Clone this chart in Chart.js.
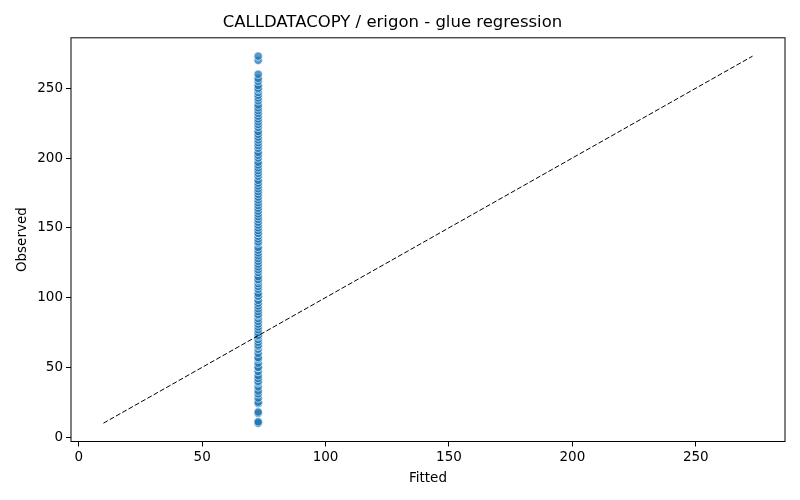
<!DOCTYPE html>
<html>
<head>
<meta charset="utf-8">
<script src="https://cdn.jsdelivr.net/npm/chart.js@4"></script>
<style>
  html, body { margin: 0; padding: 0; background: #fff; }
  #wrap { width: 800px; height: 500px; }
</style>
</head>
<body>
<div id="wrap"><canvas id="glue"></canvas></div>
<script>
// every point sits on the same fitted value
const fitted = 72.7;
const observed = [
    10, 10, 11, 17, 18, 24, 25, 28, 31, 33, 36, 39, 40, 42, 44, 47, 50, 50,
    53, 56, 57, 60, 63, 65, 66, 68, 70, 72, 73, 75, 77, 79, 81, 83, 85, 87,
    88, 90, 92, 94, 96, 98, 101, 101, 103, 106, 108, 110, 112, 113, 115, 118,
    120, 122, 124, 126, 128, 130, 132, 134, 136, 139, 140, 142, 144, 146, 146,
    148, 150, 152, 154, 156, 158, 160, 162, 164, 166, 168, 170, 172, 174, 176,
    178, 180, 182, 184, 187, 189, 191, 193, 195, 197, 200, 202, 204, 207, 209,
    211, 213, 215, 217, 219, 222, 224, 226, 228, 230, 232, 234, 236, 238, 241,
    243, 245, 247, 249, 250, 252, 255, 257, 260, 270, 273,
];
// y = x reference line ends
const diagonal = [10, 273];
const tickValues = [0, 50, 100, 150, 200, 250];
const axisMin = -3.15;
const axisMax = 286.15;

const font = "'DejaVu Sans', sans-serif";

// matplotlib-like box around the plot area
const frame = {
    id: "frame",
    afterDraw(chart) {
        const { ctx, chartArea: a } = chart;
        ctx.save();
        ctx.strokeStyle = "#000";
        ctx.lineWidth = 1;
        ctx.strokeRect(a.left, a.top, a.right - a.left, a.bottom - a.top);
        ctx.restore();
    },
};

const axis = (title, fit, titlePad) => ({
    type: "linear",
    min: axisMin,
    max: axisMax,
    afterBuildTicks: (scale) => {
        scale.ticks = tickValues.map((v) => ({ value: v }));
    },
    afterFit: fit,
    border: { display: false },
    grid: {
        drawOnChartArea: false,
        drawTicks: true,
        tickLength: 5,
        color: "#000",
    },
    ticks: {
        color: "#000",
        font: { family: font, size: 13.5 },
        padding: 3,
    },
    title: {
        display: true,
        text: title,
        color: "#000",
        font: { family: font, size: 13.5 },
        padding: titlePad,
    },
});

new Chart(document.getElementById("glue"), {
    type: "scatter",
    data: {
        datasets: [
            {
                type: "line",
                data: diagonal.map((v) => ({ x: v, y: v })),
                borderColor: "#000",
                borderWidth: 1,
                borderDash: [5, 2.2],
                pointRadius: 0,
                fill: false,
            },
            {
                data: observed.map((v) => ({ x: fitted, y: v })),
                backgroundColor: "rgba(31, 119, 180, 0.75)",
                borderColor: "rgba(255, 255, 255, 0.8)",
                borderWidth: 0.75,
                pointRadius: 4.2,
            },
        ],
    },
    options: {
        responsive: true,
        maintainAspectRatio: false,
        animation: false,
        layout: { padding: { left: 0, right: 15, top: 0, bottom: 0 } },
        plugins: {
            legend: { display: false },
            tooltip: { enabled: false },
            title: {
                display: true,
                text: "CALLDATACOPY / erigon - glue regression",
                color: "#000",
                font: { family: font, size: 16.5, weight: "normal" },
                padding: { top: 13, bottom: 5 },
            },
        },
        scales: {
            x: axis("Fitted", (s) => { s.height = 58.5; }, { top: 4, bottom: 13 }),
            y: axis("Observed", (s) => { s.width = 71; }, { top: 14, bottom: 4 }),
        },
    },
    plugins: [frame],
});
</script>
</body>
</html>
